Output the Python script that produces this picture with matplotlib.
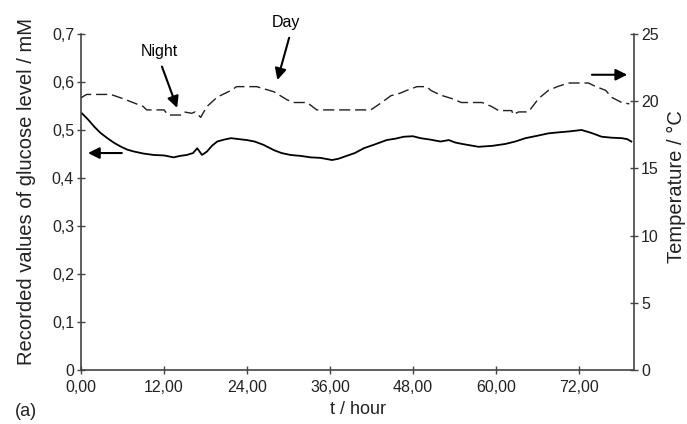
import matplotlib
matplotlib.use("Agg")
import matplotlib.pyplot as plt

plt.rcParams["font.family"] = ["Liberation Sans", "DejaVu Sans"]

# glucose trace (left axis)
t_glu = [0.1, 1.0, 1.9, 2.8, 3.8, 4.8, 5.8, 6.7, 7.7, 9.0, 10.5, 12.0, 13.4, 14.3, 15.3,
         16.2, 16.8, 17.5, 18.2, 19.0, 19.7, 20.7, 21.7, 22.8, 24.0, 25.1, 26.4, 27.9,
         29.0, 30.3, 31.8, 33.2, 34.6, 36.3, 37.2, 38.4, 39.6, 40.9, 42.5, 44.2, 45.5,
         46.7, 48.0, 49.1, 50.5, 52.0, 53.2, 54.1, 55.1, 56.3, 57.5, 59.5, 61.4, 62.8,
         64.3, 66.0, 67.6, 69.0, 70.6, 72.4, 73.8, 75.3, 76.7, 78.2, 79.0, 79.6]
glucose = [0.535, 0.522, 0.507, 0.494, 0.483, 0.473, 0.465, 0.459, 0.455, 0.451, 0.448,
           0.447, 0.443, 0.446, 0.448, 0.452, 0.462, 0.448, 0.455, 0.468, 0.476, 0.480,
           0.483, 0.481, 0.479, 0.476, 0.469, 0.458, 0.452, 0.448, 0.446, 0.443, 0.442,
           0.4375, 0.440, 0.446, 0.452, 0.462, 0.470, 0.479, 0.482, 0.486, 0.487, 0.483,
           0.480, 0.476, 0.479, 0.474, 0.471, 0.468, 0.465, 0.467, 0.471, 0.476, 0.483,
           0.488, 0.493, 0.495, 0.497, 0.500, 0.494, 0.486, 0.484, 0.483, 0.481, 0.476]

# temperature trace (right axis)
t_temp = [0, 0.8, 4.3, 6.0, 8.0, 9.0, 9.5, 12.0, 12.6, 14.5, 14.9, 16.0, 16.5, 17.3,
          18.2, 19.7, 21.7, 22.5, 25.4, 27.9, 29.8, 30.8, 32.7, 34.1, 41.9, 43.4, 44.8,
          46.2, 47.1, 48.6, 50.0, 50.6, 52.0, 53.6, 55.0, 58.0, 59.4, 60.4, 62.3, 62.5,
          63.3, 64.7, 66.2, 67.6, 69.0, 70.5, 73.4, 74.4, 75.9, 76.7, 78.2, 79.3]
temperature = [20.25, 20.5, 20.5, 20.2, 19.8, 19.6, 19.35, 19.35, 18.97, 18.97, 19.2,
               19.1, 19.2, 18.8, 19.6, 20.3, 20.8, 21.08, 21.08, 20.7, 20.1, 19.9, 19.9,
               19.35, 19.35, 19.87, 20.4, 20.6, 20.8, 21.08, 21.08, 20.8, 20.45, 20.2,
               19.9, 19.9, 19.6, 19.3, 19.3, 19.0, 19.2, 19.2, 20.2, 20.8, 21.1, 21.35,
               21.35, 21.1, 20.8, 20.3, 19.9, 19.8]

x_ticks = [0, 12, 24, 36, 48, 60, 72]
x_labels = ["0,00", "12,00", "24,00", "36,00", "48,00", "60,00", "72,00"]
y_ticks = [0, 0.1, 0.2, 0.3, 0.4, 0.5, 0.6, 0.7]
y_labels = ["0", "0,1", "0,2", "0,3", "0,4", "0,5", "0,6", "0,7"]
t_ticks = [0, 5, 10, 15, 20, 25]

axis_col = "#444444"
txt_col = "#222222"

fig = plt.figure(figsize=(6.87, 4.24), dpi=100)
ax = fig.add_axes([0.118, 0.127, 0.805, 0.793])
ax2 = ax.twinx()

ax.plot(t_glu, glucose, color="black", lw=1.3)
ax2.plot(t_temp, temperature, color="#1f1f1f", lw=1.0, dashes=(8, 3.5))

ax.set_xlim(0, 80)
ax.set_ylim(0, 0.7)
ax2.set_ylim(0, 25)

ax.set_xticks(x_ticks)
ax.set_xticklabels(x_labels)
ax.set_yticks(y_ticks)
ax.set_yticklabels(y_labels)
ax2.set_yticks(t_ticks)

for a in (ax, ax2):
    a.spines["top"].set_visible(False)
    for s in ("left", "right", "bottom"):
        a.spines[s].set_color(axis_col)
        a.spines[s].set_linewidth(1.2)
    a.tick_params(direction="inout", length=6, width=1, color=axis_col,
                  labelsize=11.5, labelcolor=txt_col, pad=2)
ax.tick_params(axis="x", pad=4)
ax.spines["right"].set_visible(False)
ax2.spines["left"].set_visible(False)
ax2.spines["bottom"].set_visible(False)

ax.set_ylabel("Recorded values of glucose level / mM", fontsize=14.5, color=txt_col)
ax.yaxis.set_label_coords(-0.082, 0.53)
ax2.set_ylabel("Temperature / °C", fontsize=14.5, color=txt_col)
ax2.yaxis.set_label_coords(1.06, 0.546)
ax.set_xlabel("t / hour", fontsize=13, color=txt_col)
ax.xaxis.set_label_coords(0.5, -0.093)

arrow = dict(arrowstyle="-|>", color="black", lw=1.5, mutation_scale=17, shrinkA=0, shrinkB=0)
ax.text(11.3, 0.663, "Night", ha="center", va="center", fontsize=11.5)
ax.annotate("", xy=(13.9, 0.546), xytext=(11.7, 0.632), arrowprops=arrow)
ax.text(29.7, 0.723, "Day", ha="center", va="center", fontsize=11.5, clip_on=False)
ax.annotate("", xy=(28.4, 0.604), xytext=(30.1, 0.692), arrowprops=arrow, annotation_clip=False)
ax.annotate("", xy=(1.0, 0.452), xytext=(5.9, 0.452), arrowprops=arrow)
ax.annotate("", xy=(79.0, 0.615), xytext=(73.9, 0.615), arrowprops=arrow)

fig.text(0.022, 0.02, "(a)", fontsize=13, color=txt_col)

fig.savefig("out.png", dpi=100)
